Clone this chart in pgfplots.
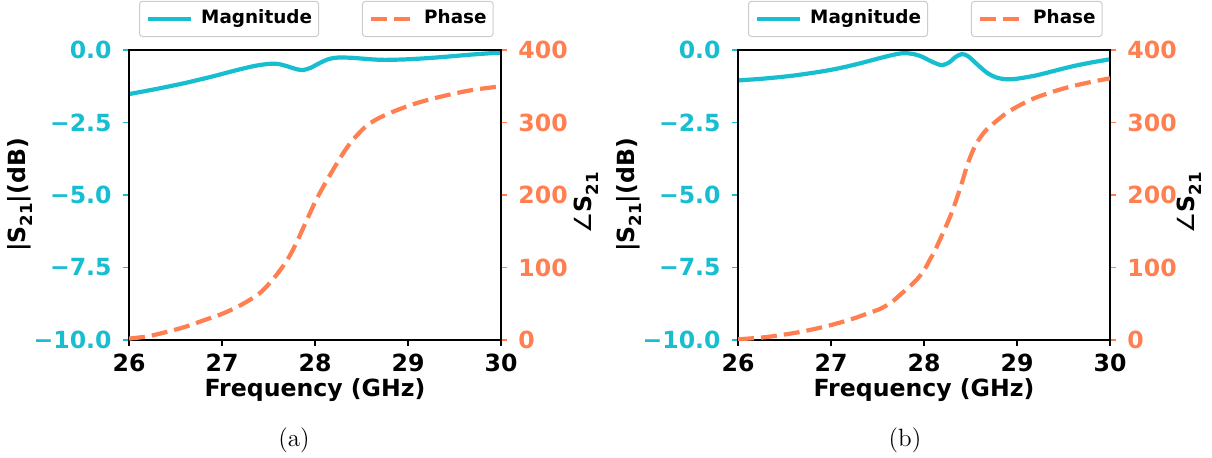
\documentclass[border=0pt]{standalone}
\usepackage{pgfplots}
\pgfplotsset{compat=1.18}
\usepackage{fontspec}
\newfontfamily\dv{DejaVu Sans}
\definecolor{mcyan}{HTML}{17BECF}
\definecolor{mcoral}{HTML}{FF7F50}
\newcommand{\tf}{\dv\bfseries\fontsize{11.8}{14}\selectfont}
\newcommand{\lf}{\dv\bfseries\fontsize{9.2}{11}\selectfont}
\newcommand{\sub}[1]{\raisebox{-0.3em}{\fontsize{8.3}{9}\selectfont #1}}

\pgfplotstableread{
f v
26.00 -1.52
26.30 -1.34
26.60 -1.14
26.90 -0.91
27.15 -0.70
27.35 -0.55
27.50 -0.48
27.60 -0.48
27.70 -0.56
27.80 -0.66
27.87 -0.69
27.95 -0.62
28.05 -0.45
28.15 -0.31
28.25 -0.26
28.40 -0.27
28.60 -0.32
28.75 -0.34
29.00 -0.32
29.30 -0.26
29.60 -0.18
29.80 -0.13
30.00 -0.09
}\magA

\pgfplotstableread{
f v
26.00 2
26.20 5
26.40 11
26.60 18
26.80 27
27.00 36
27.20 48
27.40 64
27.55 84
27.70 110
27.80 134
27.90 162
28.00 190
28.10 214
28.20 236
28.30 257
28.40 275
28.55 295
28.70 307
28.90 318
29.10 327
29.30 334
29.50 340
29.70 345
30.00 350
}\phA

\pgfplotstableread{
f v
26.00 -1.05
26.30 -0.98
26.60 -0.88
26.90 -0.74
27.10 -0.62
27.30 -0.47
27.50 -0.30
27.65 -0.18
27.77 -0.11
27.87 -0.13
27.97 -0.22
28.07 -0.38
28.15 -0.49
28.20 -0.52
28.27 -0.43
28.34 -0.24
28.41 -0.14
28.48 -0.23
28.58 -0.52
28.68 -0.79
28.78 -0.95
28.89 -1.01
29.00 -0.99
29.20 -0.88
29.40 -0.72
29.60 -0.56
29.80 -0.43
30.00 -0.32
}\magB

\pgfplotstableread{
f v
26.00 1
26.30 4
26.62 10
26.85 16
27.04 22
27.25 30
27.40 37
27.53 43
27.65 52
27.74 62
27.83 72
27.92 83
28.00 96
28.06 110
28.12 124
28.17 138
28.23 155
28.28 170
28.33 187
28.37 202
28.42 222
28.47 243
28.55 268
28.65 287
28.75 299
28.91 315
29.14 331
29.35 341
29.56 349
29.80 356
30.00 361
}\phB

\pgfplotsset{
  base/.style={
    scale only axis, width=186pt, height=145pt, anchor=south west,
    xmin=26, xmax=30,
    tick align=outside, major tick length=3pt,
    every tick/.append style={line width=0.75pt},
    axis line style={line width=0.75pt, black},
    legend image code/.code={\draw[##1] (0pt,0pt) -- (21.5pt,0pt);},
    legend cell align=left,
    legend style={anchor=south west, draw=black!20, line width=0.5pt,
      rounded corners=1.5pt, fill=white, inner xsep=3.25pt, inner ysep=4.2pt,
      font=\lf, nodes={inner sep=0pt, text height=6.9pt, text depth=2.3pt},
      /tikz/every odd column/.append style={column sep=4pt}},
  },
  leftax/.style={
    base,
    ymin=-10, ymax=0,
    ytick={-10,-7.5,-5,-2.5,0},
    yticklabels={−10.0,−7.5,−5.0,−2.5,0.0},
    xtick={26,27,28,29,30},
    xticklabels={26,27,28,29,30},
    xtick pos=left, ytick pos=left,
    ytick style={mcyan}, xtick style={black},
    yticklabel style={text=mcyan, font=\tf, anchor=east, inner sep=0pt, xshift=-5.5pt},
    xticklabel style={font=\tf, anchor=north, inner sep=0pt, yshift=-4pt},
    xlabel={\tf Frequency (GHz)},
    xlabel style={at={(axis description cs:0.5,-0.1952)}, anchor=base, inner sep=0pt},
    ylabel={\tf |S\sub{21}|(dB)},
    ylabel style={at={(axis description cs:-0.293,0.5)}, anchor=center, rotate=0, inner sep=0pt},
    legend style={at={(axis description cs:0.0269,1.0448)}},
  },
  rightax/.style={
    base,
    ymin=0, ymax=400,
    ytick={0,100,200,300,400},
    yticklabels={0,100,200,300,400},
    xtick=\empty,
    ytick pos=right, yticklabel pos=right,
    ytick style={mcoral},
    yticklabel style={text=mcoral, font=\tf, anchor=west, inner sep=0pt, xshift=5.5pt},
    ylabel={\tf{\dv\mdseries ∠}S\sub{21}},
    ylabel style={at={(axis description cs:1.212,0.4724)}, anchor=center, rotate=0, inner sep=0pt},
    legend style={at={(axis description cs:0.6263,1.0448)}},
  },
  magst/.style={mcyan, line width=2.1pt, smooth},
  phst/.style={mcoral, line width=2.1pt, dash pattern=on 8pt off 3.5pt, smooth},
}

\begin{document}
\begin{tikzpicture}
\useasboundingbox (0,0) rectangle (606pt,228.5pt);
% ---- (a)
\begin{axis}[leftax, at={(64.5pt,58.5pt)}]
\addplot[magst] table[x=f,y=v] {\magA};
\addlegendentry{Magnitude}
\end{axis}
\begin{axis}[rightax, at={(64.5pt,58.5pt)},
  ylabel style={at={(axis description cs:1.228,0.4724)}}]
\addplot[phst] table[x=f,y=v] {\phA};
\addlegendentry{Phase}
\end{axis}
% ---- (b)
\begin{axis}[leftax, at={(369pt,58.5pt)}]
\addplot[magst] table[x=f,y=v] {\magB};
\addlegendentry{Magnitude}
\end{axis}
\begin{axis}[rightax, at={(369pt,58.5pt)}]
\addplot[phst] table[x=f,y=v] {\phB};
\addlegendentry{Phase}
\end{axis}
\node[inner sep=0pt, anchor=center, font=\fontsize{12.5}{15}\selectfont] at (147pt,8.25pt) {(a)};
\node[inner sep=0pt, anchor=center, font=\fontsize{12.5}{15}\selectfont] at (452.5pt,8.25pt) {(b)};
\end{tikzpicture}
\end{document}
